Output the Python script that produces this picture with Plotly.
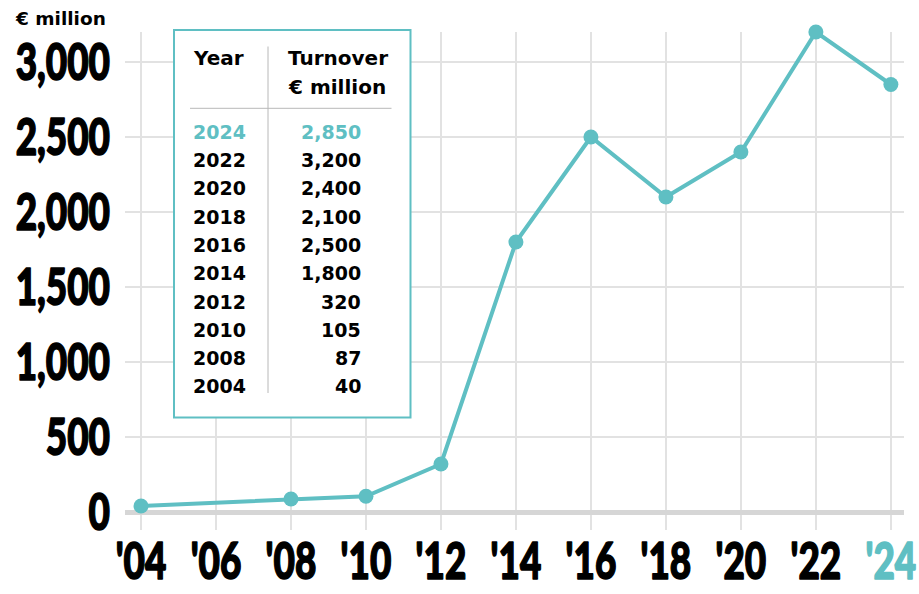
import plotly.graph_objects as go

years = [2004, 2008, 2010, 2012, 2014, 2016, 2018, 2020, 2022, 2024]
turnover = [40, 87, 105, 320, 1800, 2500, 2100, 2400, 3200, 2850]
x_ticks = [2004, 2006, 2008, 2010, 2012, 2014, 2016, 2018, 2020, 2022, 2024]
x_labels = ["'04", "'06", "'08", "'10", "'12", "'14", "'16", "'18", "'20", "'22", "'24"]
y_ticks = [0, 500, 1000, 1500, 2000, 2500, 3000]
y_labels = ["0", "500", "1,000", "1,500", "2,000", "2,500", "3,000"]
unit_label = "€ million"
table_headers = ["Year", "Turnover", "€ million"]

TEAL = "#5fbfc3"
W, H = 919, 594
ML, MR, MT, MB = 125, 15, 32, 64
PW, PH = W - ML - MR, H - MT - MB

def px(x):
    return (x - ML) / PW

def py(y):
    return (H - MB - y) / PH

BIG = dict(family="Lato", size=52, color="#000", weight=900)
TBL = dict(family="DejaVu Sans", size=19, color="#000", weight="bold")
HDR = dict(family="DejaVu Sans", size=20, color="#000", weight="bold")

fig = go.Figure()
fig.add_trace(go.Scatter(
    x=years, y=turnover, mode="lines+markers",
    line=dict(color=TEAL, width=4),
    marker=dict(color=TEAL, size=15),
    cliponaxis=False, hoverinfo="skip", showlegend=False,
))

ticktext = x_labels[:-1] + [f"<span style='color:{TEAL}'>{x_labels[-1]}</span>"]

fig.update_layout(
    width=W, height=H,
    margin=dict(l=ML, r=MR, t=MT, b=MB, autoexpand=False),
    paper_bgcolor="white", plot_bgcolor="white",
    xaxis=dict(
        range=[2003.573, 2024.35], tickvals=x_ticks, ticktext=ticktext,
        showgrid=True, gridcolor="#e2e2e2", gridwidth=1.5,
        zeroline=False, showline=False, ticks="", tickangle=0, automargin=False,
        ticklabeloverflow="allow",
        tickfont=BIG, ticklabelstandoff=0,
    ),
    yaxis=dict(
        range=[-120, 3200], tickvals=y_ticks, ticktext=y_labels,
        showgrid=True, gridcolor="#e2e2e2", gridwidth=1.5,
        zeroline=True, zerolinecolor="#d6d6d6", zerolinewidth=5,
        showline=False, ticks="", automargin=False,
        ticklabeloverflow="allow",
        tickfont=BIG, ticklabelstandoff=14,
    ),
)

# unit label
fig.add_annotation(xref="paper", yref="paper", x=px(108), y=py(18), text=unit_label,
                   showarrow=False, xanchor="right", yanchor="middle",
                   font=dict(family="DejaVu Sans", size=18.5, color="#000", weight="bold"))

# table box
fig.add_shape(type="rect", xref="paper", yref="paper",
              x0=px(174), x1=px(410.5), y0=py(30), y1=py(417.5),
              line=dict(color=TEAL, width=2), fillcolor="white", layer="above")
fig.add_shape(type="line", xref="paper", yref="paper",
              x0=px(268), x1=px(268), y0=py(46.5), y1=py(393),
              line=dict(color="#b8b8b8", width=1), layer="above")
fig.add_shape(type="line", xref="paper", yref="paper",
              x0=px(190), x1=px(391.5), y0=py(108.3), y1=py(108.3),
              line=dict(color="#b8b8b8", width=1), layer="above")

fig.add_annotation(xref="paper", yref="paper", x=px(191), y=py(58), text=table_headers[0],
                   showarrow=False, xanchor="left", yanchor="middle", font=HDR)
fig.add_annotation(xref="paper", yref="paper", x=px(286), y=py(58), text=table_headers[1],
                   showarrow=False, xanchor="left", yanchor="middle", font=HDR)
fig.add_annotation(xref="paper", yref="paper", x=px(286), y=py(86.5), text=table_headers[2],
                   showarrow=False, xanchor="left", yanchor="middle", font=HDR)

rows = list(zip(years, turnover))[::-1]
row_y0, row_dy = 131.7, 28.3
for i, (yr, val) in enumerate(rows):
    color = TEAL if i == 0 else "#000"
    f = dict(TBL, color=color)
    yy = py(row_y0 + i * row_dy)
    fig.add_annotation(xref="paper", yref="paper", x=px(191), y=yy, text=str(yr),
                       showarrow=False, xanchor="left", yanchor="middle", font=f)
    fig.add_annotation(xref="paper", yref="paper", x=px(363), y=yy, text=f"{val:,}",
                       showarrow=False, xanchor="right", yanchor="middle", font=f)

# horizontally condense and embolden the big tick labels (condensed display face look)
squeeze_js = """
var gd = document.getElementById('{plot_id}');
function sq(sel, dy){
  gd.querySelectorAll(sel).forEach(function(t){
    var x = parseFloat(t.getAttribute('x')) || 0;
    var tr = t.getAttribute('transform') || '';
    t.setAttribute('transform', tr + ' translate(' + x + ',' + dy + ') scale(0.71,1) translate(' + (-x) + ',0)');
    t.style.stroke = 'currentColor';
    t.style.strokeWidth = '1.6px';
    t.style.strokeLinejoin = 'round';
    t.querySelectorAll('tspan').forEach(function(s){ s.style.stroke = s.style.fill || 'inherit'; });
    t.style.stroke = t.style.fill || '#000';
  });
}
sq('.xtick text', -4);
sq('.ytick text', 0);
"""

fig.write_html("out.html", post_script=squeeze_js)
